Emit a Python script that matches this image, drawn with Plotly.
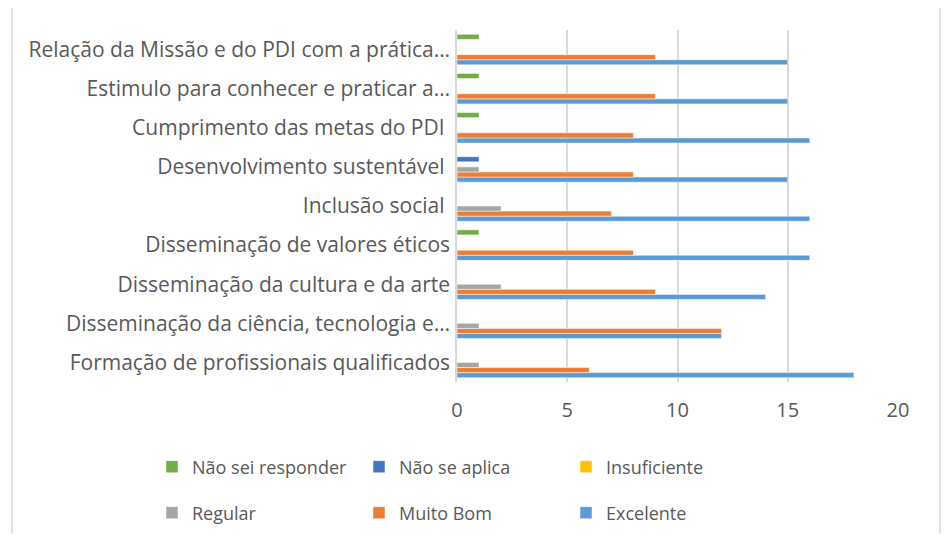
import plotly.graph_objects as go

categories = [
    "Formação de profissionais qualificados",
    "Disseminação da ciência, tecnologia e…",
    "Disseminação da cultura e da arte",
    "Disseminação de valores éticos",
    "Inclusão social ",
    "Desenvolvimento sustentável ",
    "Cumprimento das metas do PDI ",
    "Estimulo para conhecer e praticar a…",
    "Relação da Missão e do PDI com a prática…",
]

excelente = [18, 12, 14, 16, 16, 15, 16, 15, 15]
muito_bom = [6, 12, 9, 8, 7, 8, 8, 9, 9]
regular = [1, 1, 2, 0, 2, 1, 0, 0, 0]
insuficiente = [0, 0, 0, 0, 0, 0, 0, 0, 0]
nao_se_aplica = [0, 0, 0, 0, 0, 1, 0, 0, 0]
nao_sei = [0, 0, 0, 1, 0, 0, 1, 1, 1]

series = [
    ("Excelente", excelente, "#5b9bd5", "legend2"),
    ("Muito Bom", muito_bom, "#ed7d31", "legend2"),
    ("Regular", regular, "#a5a5a5", "legend2"),
    ("Insuficiente", insuficiente, "#ffc000", "legend"),
    ("Não se aplica", nao_se_aplica, "#4472c4", "legend"),
    ("Não sei responder", nao_sei, "#70ad47", "legend"),
]

txt = "#595959"
fnt = "Open Sans"

fig = go.Figure()
for name, vals, col, leg in series:
    fig.add_trace(go.Bar(
        y=categories, x=vals, name=name, orientation="h",
        marker=dict(color=col, line=dict(color="white", width=0.5)),
        legend=leg,
    ))

# the page has an 8px body margin, so everything is laid out 8px up/left
OFF = 8
W, H = 949 - OFF, 542 - 2 * OFF
L, R, T, B = 457 - OFF, 898 - OFF, 30 - OFF, 382 - OFF


def px_x(p):
    return (p - OFF - L) / (R - L)


def px_y(p):
    return (B - (p - OFF)) / (B - T)


leg_common = dict(
    orientation="h", traceorder="reversed", xanchor="left", yanchor="middle",
    font=dict(family=fnt, size=18, color=txt), bgcolor="rgba(0,0,0,0)",
    entrywidth=162, entrywidthmode="pixels", itemwidth=30,
)

fig.update_layout(
    width=W, height=H,
    margin=dict(l=L, r=W - R, t=T, b=H - B, autoexpand=False),
    paper_bgcolor="white", plot_bgcolor="white",
    barmode="group", bargap=0.22, bargroupgap=0,
    font=dict(family=fnt, size=18, color=txt),
    showlegend=True,
    legend=dict(x=px_x(152), y=px_y(467), **leg_common),
    legend2=dict(x=px_x(152), y=px_y(513), **leg_common),
    shapes=[
        dict(type="rect", xref="paper", yref="paper",
             x0=px_x(12), x1=px_x(940), y0=px_y(560), y1=px_y(1),
             line=dict(color="#d9d9d9", width=1.5), layer="below"),
        dict(type="rect", xref="paper", yref="paper",
             x0=px_x(944), x1=px_x(947), y0=px_y(540), y1=px_y(8),
             fillcolor="black", line=dict(width=0)),
    ],
)

fig.update_xaxes(
    range=[0, 20], dtick=5, showgrid=True, gridcolor="#d9d9d9", gridwidth=1.5,
    zeroline=False, showline=False, ticks="",
    ticklabelstandoff=14,
    tickfont=dict(family=fnt, size=20, color=txt),
)
fig.update_yaxes(
    categoryorder="array", categoryarray=categories,
    showline=True, linecolor="#d9d9d9", linewidth=1.5, ticks="",
    ticklabelstandoff=1,
    tickfont=dict(family=fnt, size=21, color=txt),
)

fig.write_html("out.html")
